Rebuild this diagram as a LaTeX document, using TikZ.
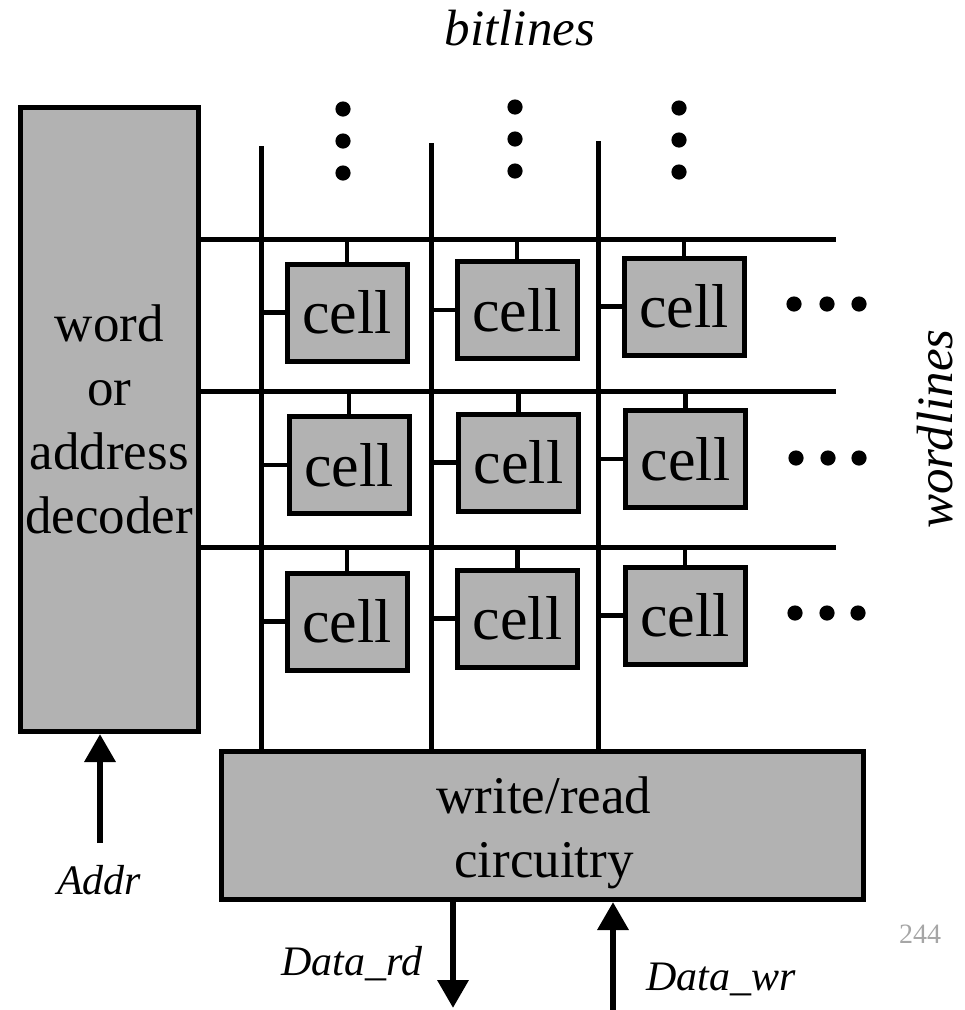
\documentclass[tikz,border=0pt]{standalone}
\usepackage{fontspec}
\setmainfont{Liberation Serif}
\usetikzlibrary{arrows.meta}

\begin{document}
\begin{tikzpicture}[x=1pt,y=-1pt,
  block/.style={draw=black, fill=black!30, line width=5pt, inner sep=0pt},
  cellbox/.style={block, minimum width=120pt, minimum height=97pt,
    font=\fontsize{62}{62}\selectfont},
  wire/.style={line width=5pt},
  stub/.style={line width=4.5pt},
  sig/.style={line width=6.5pt, -{Triangle[width=30pt,length=28pt]}},
  lbl/.style={font=\fontsize{42}{50}\selectfont\itshape, inner sep=0pt, anchor=base},
  biglbl/.style={font=\fontsize{51}{60}\selectfont\itshape, inner sep=0pt, anchor=base},
  plain/.style={font=\fontsize{53}{64}\selectfont, inner sep=0pt, anchor=base},
]
\useasboundingbox (0,0) rectangle (965,1010);

% decoder and write/read blocks
\node[block, minimum width=177.5pt, minimum height=624pt, align=center,
      font=\fontsize{53}{64}\selectfont] (dec) at (109.25,419.5)
      {word\\or\\address\\decoder};
\node[block, minimum width=641.5pt, minimum height=148pt] (wr) at (542.25,825.5) {};
\node[plain] (wrt1) at (544,813) {write/read};
\node[plain] (wrt2) at (544,877) {circuitry};

% wordline and bitline ends
\coordinate (w1) at (836,239);
\coordinate (w2) at (836,391);
\coordinate (w3) at (836,547);
\coordinate (b1) at (261,146);
\coordinate (b2) at (431,143);
\coordinate (b3) at (598,141);

\foreach \w in {w1,w2,w3}
  \draw[wire] (dec.east |- \w) -- (\w);
\foreach \b in {b1,b2,b3}
  \draw[wire] (\b) -- (\b |- wr.north);

% memory cells
\node[cellbox] (c11) at (347,312.5) {cell};
\node[cellbox] (c12) at (517,310)   {cell};
\node[cellbox] (c13) at (684,306.5) {cell};
\node[cellbox] (c21) at (349,465)   {cell};
\node[cellbox] (c22) at (518.5,462.5) {cell};
\node[cellbox] (c23) at (685.5,459) {cell};
\node[cellbox] (c31) at (347,621.5) {cell};
\node[cellbox] (c32) at (517.5,618.5) {cell};
\node[cellbox] (c33) at (685,615.5) {cell};

% cell taps onto wordlines and bitlines
\foreach \r in {1,2,3}{
  \foreach \c in {1,2,3}{
    \draw[stub] (c\r\c.north) -- (c\r\c.north |- w\r);
    \draw[stub] (c\r\c.west) -- (c\r\c.west -| b\c);
  }
}

% continuation dots
\foreach \x/\y in {343/109,343/141,343/173, 515/107,515/139,515/171, 679/108,679/140,679/172,
                   794/304,827/304,859/304, 796/458,828/458,859/458, 795/613,827/613,858/613}
  \fill (\x,\y) circle (7.6);

% signals
\coordinate (addrtail) at (100,843);
\coordinate (rdend) at (453,1008);
\coordinate (wrstart) at (613,1010);
\draw[sig] (addrtail) -- (addrtail |- dec.south);
\draw[sig] (rdend |- wr.south) -- (rdend);
\draw[sig] (wrstart) -- (wrstart |- wr.south);

% labels
\node[biglbl] (bitlbl) at (520,45) {bitlines};
\node[biglbl, rotate=90] (wordlbl) at (952,429) {wordlines};
\node[lbl] (addrlbl) at (99,894) {Addr};
\node[lbl] (rdlbl) at (352,975) {Data\_rd};
\node[lbl] (wrlbl) at (721,990) {Data\_wr};
\node[anchor=base, inner sep=0pt, text=black!35, font=\fontsize{28}{32}\selectfont]
  (pg) at (920,943) {244};
\end{tikzpicture}
\end{document}
